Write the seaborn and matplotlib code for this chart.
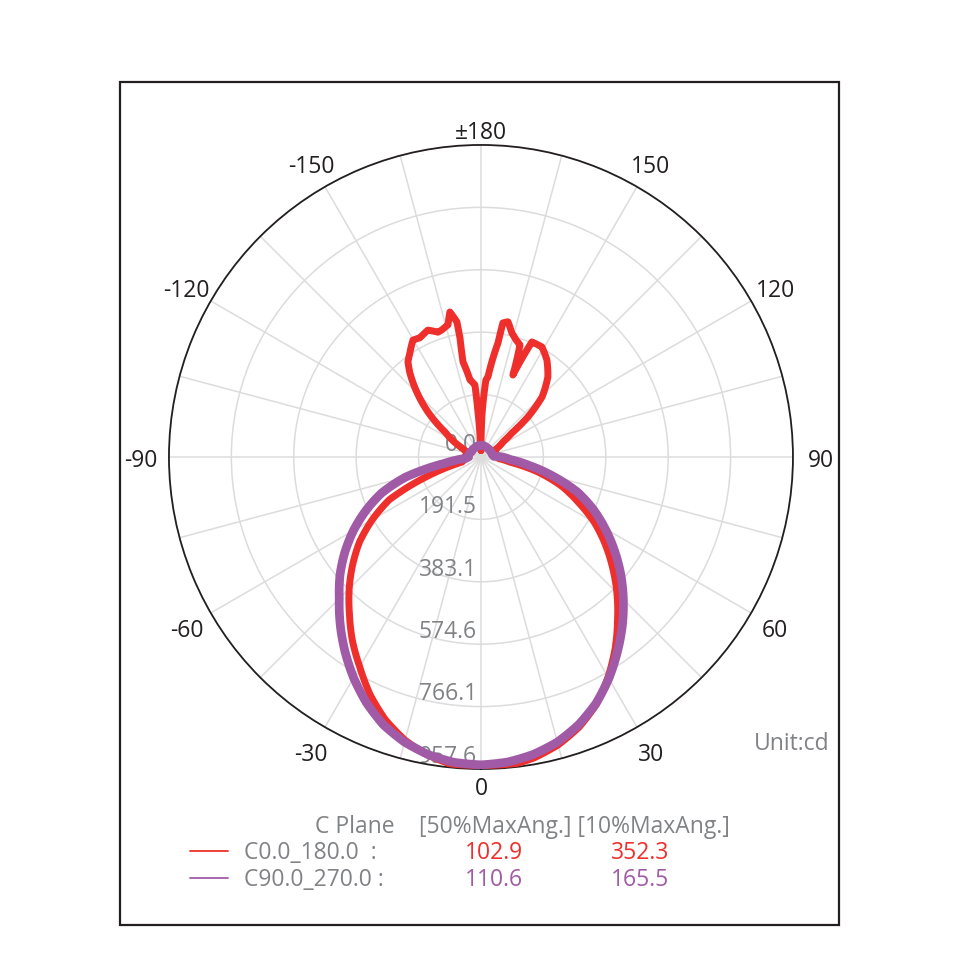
import numpy as np
import matplotlib
matplotlib.use("Agg")
import matplotlib.pyplot as plt
import seaborn as sns
from matplotlib.lines import Line2D
from matplotlib.patches import Rectangle

sns.set_style("white")
plt.rcParams['font.family'] = ['Open Sans', 'DejaVu Sans']

RED = '#ee2f2c'
PURPLE = '#a15aa6'
GREY = '#808285'
INK = '#231f20'

# C0.0_180.0 plane, traced round the curve (angle in deg, intensity in cd)
c0_angle = [180, -178, -176.2, -175.2, -171.9, -169.3, -170.0, -169.9, -167.9,
            -166.0, -162.9, -161.0, -157.3, -152.9, -149.8, -145.7, -142.5,
            -139.8, -136.3, -130.3, -124.8, -115.3, -109.7, -100, -90, -80,
            -75, -70, -65, -60, -55, -50, -45, -40, -35, -30, -25, -20, -15,
            -10, -5, 0, 5, 10, 15, 20, 25, 30, 35, 40, 45, 50, 55, 60, 65, 70,
            75, 80, 85, 90, 100, 110, 116.6, 124.6, 127.7, 130.4, 134.5, 140.1,
            145.8, 151.0, 156.1, 158.7, 160.8, 163.3, 166.0, 168.7, 170.7,
            171.5, 175.0, 176.3, 178.6, 180]
c0_cd = [20, 30, 138, 222, 239, 297, 371, 421, 455,
         418, 408, 405, 422, 411, 415, 387, 368,
         338, 293, 213, 134, 64, 46, 45, 50, 52,
         60, 180, 310, 385, 455, 514, 572, 628, 688, 744, 805, 858, 900,
         930, 950, 957.6, 952, 938, 915, 882, 838, 780, 718, 652, 590, 527,
         465, 402, 330, 265, 185, 90, 55, 50, 45, 45, 48, 84, 120, 189, 263,
         320, 360, 386, 386, 270, 364, 375, 392, 423, 417, 354, 247, 237,
         129, 20]

# C90.0_270.0 plane
c90_angle = [-180, -170, -160, -150, -140, -130, -120, -110, -100, -90, -85,
             -80, -75, -70, -65, -60, -55, -50, -45, -40, -35, -30, -25, -20,
             -15, -10, -5, 0, 5, 10, 15, 20, 25, 30, 35, 40, 45, 50, 55, 60,
             65, 70, 75, 80, 85, 90, 93, 100, 110, 120, 130, 140, 150, 160,
             170, 180]
c90_cd = [36, 36, 35, 34, 34, 34, 33, 36, 38, 38, 45,
          115, 240, 325, 390, 452, 510, 565, 615, 672, 728, 782, 832, 875,
          906, 928, 941, 945, 940, 927, 906, 875, 835, 785, 730, 675, 618, 560,
          500, 440, 380, 315, 230, 150, 90, 65, 40, 36, 35, 34, 34, 34, 34,
          35, 36, 36]

ring_values = [0.0, 191.5, 383.1, 574.6, 766.1, 957.6]
theta_ticks = [0, 30, 60, 90, 120, 150, 180, 210, 240, 270, 300, 330]
theta_labels = ['0', '30', '60', '90', '120', '150', '\u00b1180',
                '-150', '-120', '-90', '-60', '-30']

planes = ['C0.0_180.0  :', 'C90.0_270.0 :']
half_angle = ['102.9', '110.6']
tenth_angle = ['352.3', '165.5']
plane_colors = [RED, PURPLE]

fig = plt.figure(figsize=(9.6, 9.6), dpi=100)
ax = fig.add_axes([0.176, 0.199, 0.65, 0.65], projection='polar')
ax.set_theta_zero_location('S')
ax.set_theta_direction(1)

sns.lineplot(x=np.unwrap(np.deg2rad(c0_angle)), y=c0_cd, sort=False,
             estimator=None, color=RED, linewidth=5, ax=ax, zorder=3)
sns.lineplot(x=np.unwrap(np.deg2rad(c90_angle)), y=c90_cd, sort=False,
             estimator=None, color=PURPLE, linewidth=6.3, ax=ax, zorder=4)
# draw the segments as arcs in polar space instead of straight chords
for ln in ax.lines:
    ln.get_path()._interpolation_steps = 30
    ln.set_solid_joinstyle('round')

ax.set_ylim(0, ring_values[-1])
ax.set_yticks(ring_values[1:])
ax.set_yticklabels([])
ax.set_xticks(np.deg2rad(np.arange(0, 360, 15)))
ax.set_xticklabels([])
ax.tick_params(length=0)
ax.set_xlabel('')
ax.set_ylabel('')
ax.grid(True, color='#dcdcdc', linewidth=1.1)
ax.spines['polar'].set_color(INK)
ax.spines['polar'].set_linewidth(1.3)

# angle labels round the rim
for ang, lab in zip(theta_ticks, theta_labels):
    d = 11.5 if ang % 180 == 0 else 20
    rad = np.deg2rad(ang)
    ax.annotate(lab, xy=(rad, ring_values[-1]),
                xytext=(d * np.sin(rad), -d * np.cos(rad) - 2.8),
                textcoords='offset points', ha='center', va='center',
                fontsize=16.5, color=INK, annotation_clip=False)

# intensity labels along the 0 deg spoke
for v in ring_values:
    ax.annotate(f'{v:.1f}', xy=(0, v), xytext=(-3, 4.5),
                textcoords='offset points', ha='right', va='baseline',
                fontsize=16.5, color=GREY, zorder=2, annotation_clip=False)

fig.text(0.785, 0.2248, 'Unit:cd', color=GREY, fontsize=16.5, va='center')

# legend table
fig.text(0.328, 0.1385, 'C Plane', color=GREY, fontsize=16.5, va='center')
fig.text(0.436, 0.1385, '[50%MaxAng.] [10%MaxAng.]', color=GREY,
         fontsize=16.5, va='center')
for i, (name, a50, a10, col) in enumerate(zip(planes, half_angle, tenth_angle,
                                              plane_colors)):
    y = 0.1135 - i * 0.0279
    fig.add_artist(Line2D([0.198, 0.237], [y, y], color=col, lw=1.3,
                          transform=fig.transFigure))
    fig.text(0.254, y - 0.002, name, color=GREY, fontsize=16.5, va='center')
    fig.text(0.484, y - 0.002, a50, color=col, fontsize=16.5, va='center')
    fig.text(0.636, y - 0.002, a10, color=col, fontsize=16.5, va='center')

fig.add_artist(Rectangle((0.125, 0.0365), 0.749, 0.878, transform=fig.transFigure,
                         fill=False, edgecolor=INK, linewidth=1.6))

fig.savefig('out.png', dpi=100, facecolor='white')
